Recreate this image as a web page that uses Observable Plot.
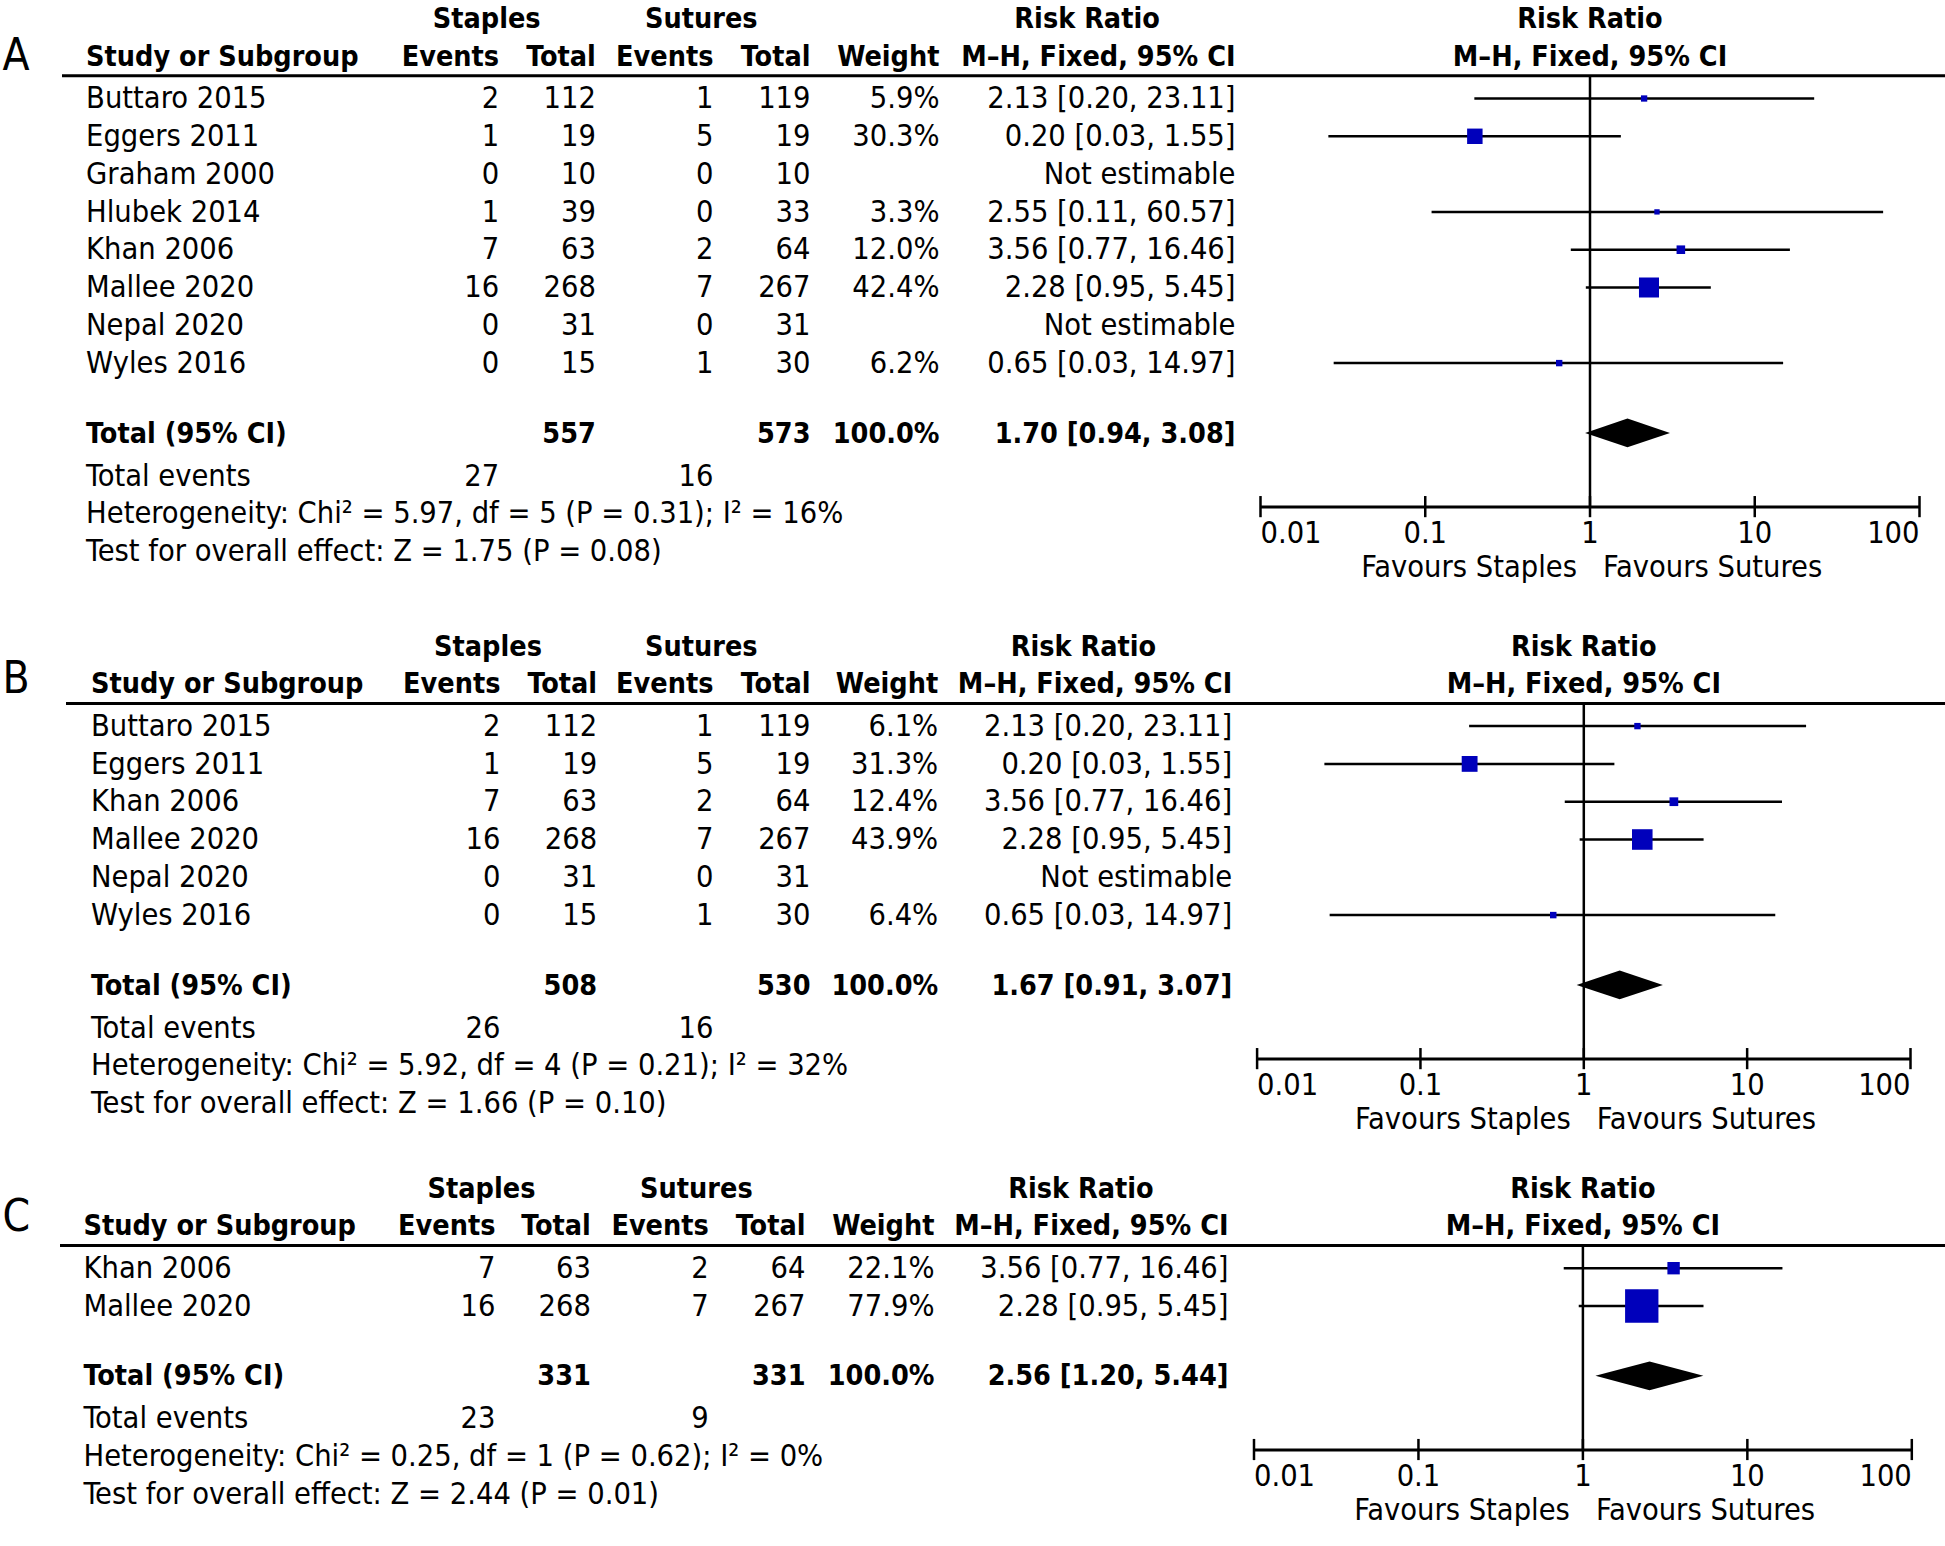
<!DOCTYPE html>
<html>
<head>
<meta charset="utf-8">
<script src="https://cdn.jsdelivr.net/npm/d3@7"></script>
<script src="https://cdn.jsdelivr.net/npm/@observablehq/plot@0.6"></script>
<style>
  html, body { margin: 0; padding: 0; background: #ffffff; }
  #fig { position: relative; width: 1945px; height: 1546px; overflow: hidden; background: #ffffff; }
  #fig svg { position: absolute; }
</style>
</head>
<body>
<div id="fig"></div>
<script>
// ---------------- DATA ----------------
// Panel A
const studiesA = ["Buttaro 2015", "Eggers 2011", "Graham 2000", "Hlubek 2014", "Khan 2006", "Mallee 2020", "Nepal 2020", "Wyles 2016"];
const staplesEventsA = [2, 1, 0, 1, 7, 16, 0, 0];
const staplesTotalA = [112, 19, 10, 39, 63, 268, 31, 15];
const suturesEventsA = [1, 5, 0, 0, 2, 7, 0, 1];
const suturesTotalA = [119, 19, 10, 33, 64, 267, 31, 30];
const weightA = [5.9, 30.3, null, 3.3, 12.0, 42.4, null, 6.2];
const riskRatioA = [2.13, 0.20, null, 2.55, 3.56, 2.28, null, 0.65];
const lowerA = [0.20, 0.026, null, 0.11, 0.77, 0.95, null, 0.028];
const upperA = [23.11, 1.55, null, 60.57, 16.46, 5.45, null, 14.97];
const pooledA = [1.70, 0.94, 3.08];           // RR, lower, upper
const groupTotalsA = [557, 573];               // staples, sutures
const totalEventsA = [27, 16];                 // staples, sutures
const heterogeneityA = "Heterogeneity: Chi² = 5.97, df = 5 (P = 0.31); I² = 16%";
const overallEffectA = "Test for overall effect: Z = 1.75 (P = 0.08)";

// Panel B
const studiesB = ["Buttaro 2015", "Eggers 2011", "Khan 2006", "Mallee 2020", "Nepal 2020", "Wyles 2016"];
const staplesEventsB = [2, 1, 7, 16, 0, 0];
const staplesTotalB = [112, 19, 63, 268, 31, 15];
const suturesEventsB = [1, 5, 2, 7, 0, 1];
const suturesTotalB = [119, 19, 64, 267, 31, 30];
const weightB = [6.1, 31.3, 12.4, 43.9, null, 6.4];
const riskRatioB = [2.13, 0.20, 3.56, 2.28, null, 0.65];
const lowerB = [0.20, 0.026, 0.77, 0.95, null, 0.028];
const upperB = [23.11, 1.55, 16.46, 5.45, null, 14.97];
const pooledB = [1.67, 0.91, 3.07];
const groupTotalsB = [508, 530];
const totalEventsB = [26, 16];
const heterogeneityB = "Heterogeneity: Chi² = 5.92, df = 4 (P = 0.21); I² = 32%";
const overallEffectB = "Test for overall effect: Z = 1.66 (P = 0.10)";

// Panel C
const studiesC = ["Khan 2006", "Mallee 2020"];
const staplesEventsC = [7, 16];
const staplesTotalC = [63, 268];
const suturesEventsC = [2, 7];
const suturesTotalC = [64, 267];
const weightC = [22.1, 77.9];
const riskRatioC = [3.56, 2.28];
const lowerC = [0.77, 0.95];
const upperC = [16.46, 5.45];
const pooledC = [2.56, 1.20, 5.44];
const groupTotalsC = [331, 331];
const totalEventsC = [23, 9];
const heterogeneityC = "Heterogeneity: Chi² = 0.25, df = 1 (P = 0.62); I² = 0%";
const overallEffectC = "Test for overall effect: Z = 2.44 (P = 0.01)";

// Axis
const axisTicks = [0.01, 0.1, 1, 10, 100];
const axisTickLabels = ["0.01", "0.1", "1", "10", "100"];

// ---------------- LAYOUT / STYLE ----------------
const FONT = '"DejaVu Sans Condensed", "Liberation Sans Narrow", "DejaVu Sans", sans-serif';
const FS = 30.5;       // regular text
const FSB = 28.5;      // bold text
const ROW = 37.8;
const BLUE = "#0000bb";
// column slots: 0 letter,1 rule start,2 study,3 staples head,4 st events,5 st total,
// 6 sutures head,7 su events,8 su total,9 weight,10 RR head,11 RR text,12 end
const panels = [
  {letter: "A", letterRow: -1.13, top: 0, height: 600, row0: 98,
   cols: [2, 62, 85.6, 486.2, 498.6, 595.4, 700.8, 713, 810, 939, 1086.6, 1235, 1240], forest: [20, 679],
   studies: studiesA, se: staplesEventsA, st: staplesTotalA, ue: suturesEventsA, ut: suturesTotalA,
   w: weightA, rr: riskRatioA, lo: lowerA, hi: upperA, pooled: pooledA, totals: groupTotalsA,
   events: totalEventsA, het: heterogeneityA, test: overallEffectA},
  {letter: "B", letterRow: -1.25, top: 600, height: 560, row0: 125.6,
   cols: [2, 66, 90.5, 487.5, 500, 596.6, 700.8, 713, 810, 937.7, 1083, 1231.7, 1240], forest: [16.6, 670],
   studies: studiesB, se: staplesEventsB, st: staplesTotalB, ue: suturesEventsB, ut: suturesTotalB,
   w: weightB, rr: riskRatioB, lo: lowerB, hi: upperB, pooled: pooledB, totals: groupTotalsB,
   events: totalEventsB, het: heterogeneityB, test: overallEffectB},
  {letter: "C", letterRow: -1.35, top: 1160, height: 386, row0: 107.7,
   cols: [2, 60, 83, 481, 495, 590.4, 695.9, 708.3, 805, 934, 1080.4, 1228, 1240], forest: [13.5, 671.3],
   studies: studiesC, se: staplesEventsC, st: staplesTotalC, ue: suturesEventsC, ut: suturesTotalC,
   w: weightC, rr: riskRatioC, lo: lowerC, hi: upperC, pooled: pooledC, totals: groupTotalsC,
   events: totalEventsC, het: heterogeneityC, test: overallEffectC}
];
const OFF = {staples: -2.1, header: -1.11, rule: -0.6, total: 0.86, events: 1.98, het: 2.98, test: 3.98,
             axis: 2.81, ticks: 3.51, favours: 4.39};

const f2 = d3.format(".2f");
const f1 = d3.format(".1f");
const fig = document.getElementById("fig");

function txt(data, o) {
  const bold = o.fontWeight === "bold";
  return Plot.text(data, Object.assign({fontFamily: FONT, fontSize: bold ? FSB : FS, fill: "black", lineAnchor: "middle"}, o));
}

for (const P of panels) {
  const n = P.studies.length;
  const rows = P.studies.map((s, i) => ({
    row: i, study: s, se: P.se[i], st: P.st[i], ue: P.ue[i], ut: P.ut[i],
    w: P.w[i], rr: P.rr[i], lo: P.lo[i], hi: P.hi[i]
  }));
  const est = rows.filter(d => d.rr != null);
  const yTotal = n + OFF.total, yEvents = n + OFF.events, yHet = n + OFF.het, yTest = n + OFF.test;
  const yAxis = n + OFF.axis, yTicks = n + OFF.ticks, yFav = n + OFF.favours;
  const yScale = {type: "linear", domain: [0, 1], range: [P.row0, P.row0 + ROW], axis: null};

  // ----- table -----
  const headers = [
    {c: 2, t: "Study or Subgroup", a: "start"},
    {c: 4, t: "Events", a: "end"}, {c: 5, t: "Total", a: "end"},
    {c: 7, t: "Events", a: "end"}, {c: 8, t: "Total", a: "end"},
    {c: 9, t: "Weight", a: "end"}, {c: 11, t: "M\u2013H, Fixed, 95% CI", a: "end"}
  ];
  const table = Plot.plot({
    width: 1240, height: P.height,
    marginTop: 0, marginBottom: 0, marginLeft: 0, marginRight: 0,
    x: {type: "linear", domain: d3.range(13), range: P.cols, axis: null},
    y: yScale,
    style: {background: "transparent", overflow: "visible"},
    marks: [
      txt([P.letter], {x: 0, y: P.letterRow, text: d => d, textAnchor: "start", fontSize: 44}),
      txt(["Staples"], {x: 3, y: OFF.staples, text: d => d, fontWeight: "bold"}),
      txt(["Sutures"], {x: 6, y: OFF.staples, text: d => d, fontWeight: "bold"}),
      txt(["Risk Ratio"], {x: 10, y: OFF.staples, text: d => d, fontWeight: "bold"}),
      ...["start", "end"].map(a => txt(headers.filter(h => h.a === a),
          {x: "c", y: OFF.header, text: "t", textAnchor: a, fontWeight: "bold"})),
      Plot.ruleY([OFF.rule], {x1: 1, x2: 12, stroke: "black", strokeWidth: 3}),
      txt(rows, {x: 2, y: "row", text: "study", textAnchor: "start"}),
      txt(rows, {x: 4, y: "row", text: d => String(d.se), textAnchor: "end"}),
      txt(rows, {x: 5, y: "row", text: d => String(d.st), textAnchor: "end"}),
      txt(rows, {x: 7, y: "row", text: d => String(d.ue), textAnchor: "end"}),
      txt(rows, {x: 8, y: "row", text: d => String(d.ut), textAnchor: "end"}),
      txt(rows, {x: 9, y: "row", text: d => d.w == null ? "" : f1(d.w) + "%", textAnchor: "end"}),
      txt(rows, {x: 11, y: "row", text: d => d.rr == null ? "Not estimable" : `${f2(d.rr)} [${f2(d.lo)}, ${f2(d.hi)}]`, textAnchor: "end"}),
      // total row
      txt(["Total (95% CI)"], {x: 2, y: yTotal, text: d => d, textAnchor: "start", fontWeight: "bold"}),
      txt([P.totals[0]], {x: 5, y: yTotal, text: d => String(d), textAnchor: "end", fontWeight: "bold"}),
      txt([P.totals[1]], {x: 8, y: yTotal, text: d => String(d), textAnchor: "end", fontWeight: "bold"}),
      txt([d3.sum(P.w.filter(v => v != null))], {x: 9, y: yTotal, text: d => f1(Math.round(d)) + "%", textAnchor: "end", fontWeight: "bold"}),
      txt([P.pooled], {x: 11, y: yTotal, text: d => `${f2(d[0])} [${f2(d[1])}, ${f2(d[2])}]`, textAnchor: "end", fontWeight: "bold"}),
      // total events
      txt(["Total events"], {x: 2, y: yEvents, text: d => d, textAnchor: "start"}),
      txt([P.events[0]], {x: 4, y: yEvents, text: d => String(d), textAnchor: "end"}),
      txt([P.events[1]], {x: 7, y: yEvents, text: d => String(d), textAnchor: "end"}),
      txt([P.het], {x: 2, y: yHet, text: d => d, textAnchor: "start"}),
      txt([P.test], {x: 2, y: yTest, text: d => d, textAnchor: "start"})
    ]
  });
  table.style.left = "0px";
  table.style.top = P.top + "px";
  fig.appendChild(table);

  // ----- forest -----
  const pooled = {rr: P.pooled[0], lo: P.pooled[1], hi: P.pooled[2]};
  const dh = 0.38;
  const diamond = [
    {y: yTotal - dh, x1: pooled.rr, x2: pooled.rr},
    {y: yTotal, x1: pooled.lo, x2: pooled.hi},
    {y: yTotal + dh, x1: pooled.rr, x2: pooled.rr}
  ];
  const tickText = axisTicks.map((v, i) => ({v, t: axisTickLabels[i]}));
  const forest = Plot.plot({
    width: 705, height: P.height,
    marginTop: 0, marginBottom: 0, marginLeft: 0, marginRight: 0,
    x: {type: "log", domain: [0.01, 100], range: P.forest, axis: null},
    y: yScale,
    r: {type: "linear", domain: [0, 100], range: [2.3, 23.5]},
    style: {background: "transparent", overflow: "visible"},
    marks: [
      txt(["Risk Ratio"], {x: 1, y: OFF.staples, text: d => d, fontWeight: "bold"}),
      txt(["M\u2013H, Fixed, 95% CI"], {x: 1, y: OFF.header, text: d => d, fontWeight: "bold"}),
      Plot.ruleY([OFF.rule], {stroke: "black", strokeWidth: 3}),
      Plot.ruleX([1], {y1: OFF.rule, y2: yAxis, stroke: "black", strokeWidth: 2.5}),
      Plot.ruleY(est, {y: "row", x1: "lo", x2: "hi", stroke: "black", strokeWidth: 2.5}),
      Plot.dot(est, {x: "rr", y: "row", r: "w", symbol: "square", fill: BLUE, stroke: "none"}),
      Plot.areaX(diamond, {y: "y", x1: "x1", x2: "x2", fill: "black", curve: "linear"}),
      Plot.ruleY([yAxis], {x1: axisTicks[0], x2: axisTicks[axisTicks.length - 1], stroke: "black", strokeWidth: 3}),
      Plot.ruleX(axisTicks, {x: d => d, y1: yAxis - 0.28, y2: yAxis + 0.28, stroke: "black", strokeWidth: 2.5}),
      txt(tickText.slice(0, 1), {x: "v", y: yTicks, text: "t", textAnchor: "start"}),
      txt(tickText.slice(1, -1), {x: "v", y: yTicks, text: "t", textAnchor: "middle"}),
      txt(tickText.slice(-1), {x: "v", y: yTicks, text: "t", textAnchor: "end"}),
      txt(["Favours Staples"], {x: 1, y: yFav, text: d => d, textAnchor: "end", dx: -13}),
      txt(["Favours Sutures"], {x: 1, y: yFav, text: d => d, textAnchor: "start", dx: 13})
    ]
  });
  forest.style.left = "1240px";
  forest.style.top = P.top + "px";
  fig.appendChild(forest);
}
</script>
</body>
</html>
